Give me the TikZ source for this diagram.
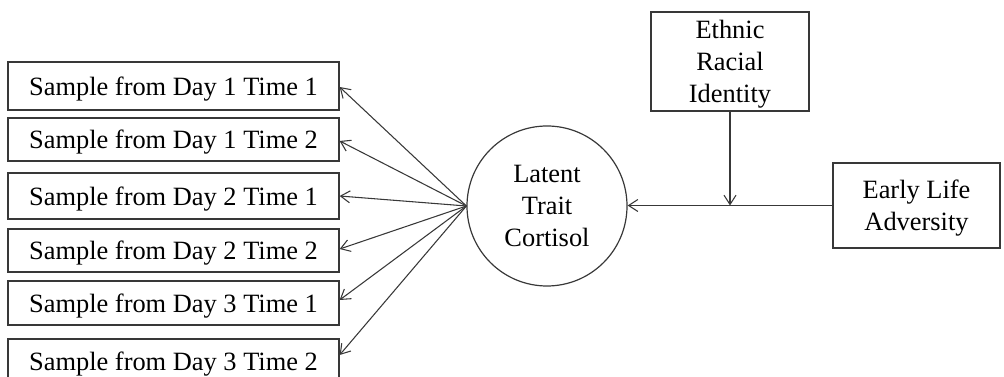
\documentclass[tikz,border=0pt]{standalone}
\usepackage{fontspec}
\setmainfont{Liberation Serif}
\usetikzlibrary{arrows.meta}
\definecolor{ink}{HTML}{383838}
\tikzset{
  every node/.style={font=\fontsize{19.8}{23.8}\selectfont, text=black},
  obsbox/.style={draw=ink, line width=0.95pt, rectangle, inner sep=0pt,
    minimum width=248.25pt, minimum height=#1, align=center, text depth=0pt},
  varbox/.style={draw=ink, line width=0.95pt, rectangle, inner sep=0pt,
    align=center, text depth=0pt},
  latent/.style={draw=ink, line width=0.9pt, circle, inner sep=0pt,
    minimum size=120pt, align=center},
  path/.style={draw=ink, line width=0.8pt, -{Straight Barb[length=7pt,width=9pt]}}
}
\begin{document}
\begin{tikzpicture}[x=0.75pt, y=-0.75pt]
\useasboundingbox (0,0) rectangle (1004,377);

% observed cortisol samples
\node[obsbox=36pt] (b1) at (173.5,86)    {Sample from Day 1 Time 1};
\node[obsbox=32.25pt] (b2) at (173.5,139.5) {Sample from Day 1 Time 2};
\node[obsbox=34.5pt] (b3) at (173.5,196)  {Sample from Day 2 Time 1};
\node[obsbox=32.25pt] (b4) at (173.5,250.5) {Sample from Day 2 Time 2};
\node[obsbox=33pt] (b5) at (173.5,303)   {Sample from Day 3 Time 1};
\node[obsbox=33pt] (b6) at (173.5,361)   {Sample from Day 3 Time 2};

% latent factor
\node[latent] (lt) at (547,206) {Latent\\Trait\\Cortisol};

% predictor and moderator
\node[varbox, minimum width=118.5pt, minimum height=74.25pt] (eth) at (730,61.5) {Ethnic\\Racial\\Identity};
\node[varbox, minimum width=125.25pt, minimum height=63.75pt] (ela) at (916.5,205.5) {Early Life\\Adversity};
\coordinate (mod) at (eth.south |- ela.west);

% factor loadings
\draw[path] (lt.west) -- ([yshift=-0.75pt]b1.east);
\draw[path] (lt.west) -- ([yshift=-1.1pt]b2.east);
\draw[path] (lt.west) -- (b3.east);
\draw[path] (lt.west) -- ([yshift=1.1pt]b4.east);
\draw[path] (lt.west) -- ([yshift=2.25pt]b5.east);
\draw[path] (lt.west) -- ([yshift=4.5pt]b6.east);

% structural path and moderation
\draw[path] (ela.west) -- (lt.east |- ela.west);
\draw[path] (eth.south) -- (mod);
\end{tikzpicture}
\end{document}
